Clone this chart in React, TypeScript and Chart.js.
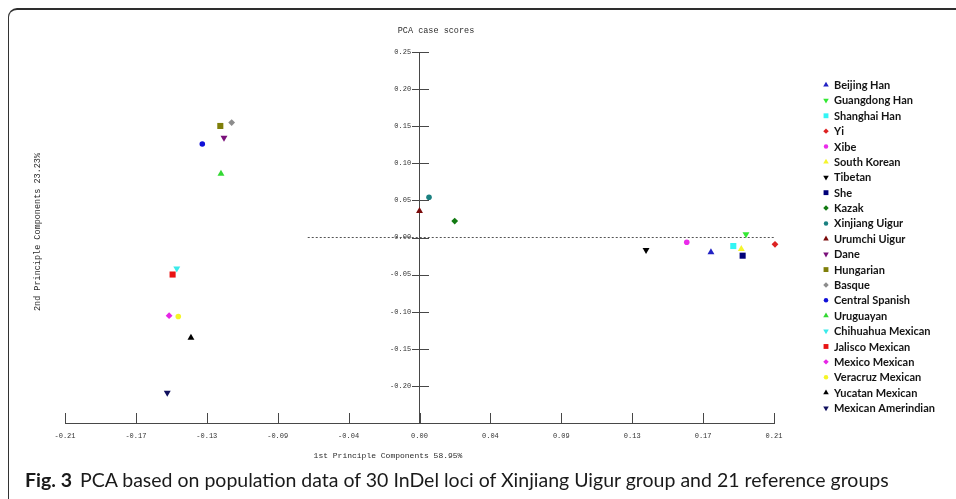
import React, { useEffect, useRef } from 'react';
import { Chart, registerables } from 'chart.js';
import { drawPoint } from 'chart.js/helpers';

Chart.register(...registerables);

// ---------------- data ----------------
const populations = [
  'Beijing Han', 'Guangdong Han', 'Shanghai Han', 'Yi', 'Xibe', 'South Korean',
  'Tibetan', 'She', 'Kazak', 'Xinjiang Uigur', 'Urumchi Uigur', 'Dane',
  'Hungarian', 'Basque', 'Central Spanish', 'Uruguayan', 'Chihuahua Mexican',
  'Jalisco Mexican', 'Mexico Mexican', 'Veracruz Mexican', 'Yucatan Mexican',
  'Mexican Amerindian',
];
const pc1 = [
  0.1747, 0.1957, 0.1881, 0.2131, 0.1602, 0.1929,
  0.1358, 0.1937, 0.0211, 0.0057, 0.0, -0.1172,
  -0.1194, -0.1126, -0.1302, -0.119, -0.1455,
  -0.148, -0.1501, -0.1446, -0.137,
  -0.1512,
];
const pc2 = [
  -0.0199, 0.0043, -0.0115, -0.0092, -0.0065, -0.0155,
  -0.0168, -0.0245, 0.0222, 0.0542, 0.0357, 0.1345,
  0.1503, 0.1549, 0.1261, 0.086, -0.0418,
  -0.0499, -0.1054, -0.1065, -0.135,
  -0.2091,
];
const colors = [
  '#2222c4', '#33e833', '#33f5f5', '#dd2222', '#ea2cea', '#f5f52e',
  '#000000', '#000078', '#127a12', '#1a8080', '#7a0a0a', '#7a107a',
  '#7f7f0a', '#8c8c8c', '#1010d8', '#33d833', '#3aeaea',
  '#e81414', '#e626e6', '#f5f526', '#000000',
  '#10105e',
];
const shapes = [
  'up', 'down', 'square', 'diamond', 'circle', 'up',
  'down', 'square', 'diamond', 'circle', 'up', 'down',
  'square', 'diamond', 'circle', 'up', 'down',
  'square', 'diamond', 'circle', 'up',
  'down',
];
const xTickValues = [-0.2125, -0.17, -0.1275, -0.085, -0.0425, 0, 0.0425, 0.085, 0.1275, 0.17, 0.2125];
const xTickLabels = ['-0.21', '-0.17', '-0.13', '-0.09', '-0.04', '0.00', '0.04', '0.09', '0.13', '0.17', '0.21'];
const yTickValues = [-0.25, -0.2, -0.15, -0.1, -0.05, 0, 0.05, 0.1, 0.15, 0.2, 0.25];
const yTickLabels = ['', '-0.20', '-0.15', '-0.10', '-0.05', '0.00', '0.05', '0.10', '0.15', '0.20', '0.25'];
const zeroLineX = [-0.067, 0.2125];
const zeroLineY = [0, 0];

const chartTitle = 'PCA case scores';
const xTitle = '1st Principle Components 58.95%';
const yTitle = '2nd Principle Components 23.23%';

// -------------- styles ----------------
const shapeStyle: Record<string, { pointStyle: string; rotation: number; radius: number }> = {
  up: { pointStyle: 'triangle', rotation: 0, radius: 4 },
  down: { pointStyle: 'triangle', rotation: 180, radius: 4 },
  square: { pointStyle: 'rect', rotation: 0, radius: 4.3 },
  diamond: { pointStyle: 'rectRot', rotation: 0, radius: 3.4 },
  circle: { pointStyle: 'circle', rotation: 0, radius: 2.8 },
};

const MONO = "'Liberation Mono', 'DejaVu Sans Mono', monospace";
const AXIS_COLOR = '#474747';

const decorPlugin = {
  id: 'decor',
  afterDraw(chart: any) {
    const ctx = chart.ctx as CanvasRenderingContext2D;
    const xs = chart.scales.x;
    const ys = chart.scales.y;
    const area = chart.chartArea;
    const x0 = xs.getPixelForValue(0);
    ctx.save();
    // tick marks crossing the axes
    ctx.strokeStyle = AXIS_COLOR;
    ctx.lineWidth = 1;
    ctx.beginPath();
    xs.ticks.forEach((t: any) => {
      const px = Math.round(xs.getPixelForValue(t.value)) + 0.5;
      ctx.moveTo(px, area.bottom - 10);
      ctx.lineTo(px, area.bottom + 1);
    });
    ys.ticks.forEach((t: any) => {
      const py = Math.round(ys.getPixelForValue(t.value)) + 0.5;
      ctx.moveTo(Math.round(x0) - 8, py);
      ctx.lineTo(Math.round(x0) + 9, py);
    });
    ctx.stroke();

    // titles
    ctx.fillStyle = '#2b2b2b';
    ctx.textAlign = 'center';
    ctx.textBaseline = 'middle';
    ctx.font = `8.5px ${MONO}`;
    ctx.fillText(chartTitle, 436, 31);
    ctx.font = `8px ${MONO}`;
    ctx.fillText(xTitle, 388, 456);
    ctx.save();
    ctx.translate(38, 232);
    ctx.rotate(-Math.PI / 2);
    ctx.font = `8.5px ${MONO}`;
    ctx.fillText(yTitle, 0, 0);
    ctx.restore();

    // legend
    const step = (408 - 85) / (populations.length - 1);
    populations.forEach((name, i) => {
      const y = 85 + i * step;
      const st = shapeStyle[shapes[i]];
      ctx.fillStyle = colors[i];
      ctx.strokeStyle = colors[i];
      drawPoint(ctx, { pointStyle: st.pointStyle as any, rotation: st.rotation, radius: st.radius * 0.8, borderWidth: 0 }, 826, y);
      ctx.fillStyle = '#141414';
      ctx.textAlign = 'left';
      ctx.textBaseline = 'middle';
      ctx.font = "bold 11px Lato, 'Open Sans', sans-serif";
      ctx.fillText(name, 834, y + 0.5);
    });
    ctx.restore();
  },
};

export default function App() {
  const canvasRef = useRef<HTMLCanvasElement | null>(null);

  useEffect(() => {
    if (!canvasRef.current) return;
    const datasets: any[] = populations.map((name, i) => {
      const st = shapeStyle[shapes[i]];
      return {
        label: name,
        data: [{ x: pc1[i], y: pc2[i] }],
        pointStyle: st.pointStyle,
        rotation: st.rotation,
        pointRadius: st.radius,
        pointBorderWidth: 0,
        backgroundColor: colors[i],
        borderColor: colors[i],
        clip: false,
      };
    });
    datasets.push({
      label: 'zero',
      data: zeroLineX.map((x, i) => ({ x, y: zeroLineY[i] })),
      showLine: true,
      pointRadius: 0,
      borderColor: '#555555',
      borderWidth: 1,
      borderDash: [2, 2],
      clip: false,
    });

    const chart = new Chart(canvasRef.current, {
      type: 'scatter',
      data: { datasets },
      options: {
        responsive: false,
        animation: false,
        devicePixelRatio: 1,
        layout: { padding: { left: 65, top: 52, right: 182, bottom: 20.6 } },
        plugins: {
          legend: { display: false },
          tooltip: { enabled: false },
          title: { display: false },
        },
        scales: {
          x: {
            type: 'linear',
            position: 'bottom',
            min: -0.2125,
            max: 0.2125,
            afterBuildTicks: (s: any) => {
              s.ticks = xTickValues.map((v) => ({ value: v }));
            },
            ticks: {
              callback: (_v: any, i: number) => xTickLabels[i],
              font: { family: MONO, size: 7 },
              color: '#333333',
              padding: 9,
              maxRotation: 0,
              autoSkip: false,
            },
            grid: { drawOnChartArea: false, drawTicks: false },
            border: { color: AXIS_COLOR, width: 1 },
          },
          y: {
            type: 'linear',
            position: { x: 0 } as any,
            min: -0.25,
            max: 0.25,
            afterBuildTicks: (s: any) => {
              s.ticks = yTickValues.map((v) => ({ value: v }));
            },
            ticks: {
              // this axis type ignores tick padding: keep a gap with trailing spaces
              callback: (_v: any, i: number) => yTickLabels[i].padStart(5, ' ') + '  ',
              font: { family: MONO, size: 7 },
              color: '#333333',
              padding: 9,
              autoSkip: false,
            },
            grid: { drawOnChartArea: false, drawTicks: false },
            border: { color: AXIS_COLOR, width: 1 },
          },
        },
      } as any,
      plugins: [decorPlugin],
    });
    return () => chart.destroy();
  }, []);

  return (
    <div style={{ position: 'absolute', left: 0, top: 0, width: 956, height: 499, overflow: 'hidden', background: '#ffffff' }}>
      <div
        style={{
          position: 'absolute', left: 8, top: 8, width: 1000, height: 600,
          borderLeft: '1px solid #333', borderTop: '2px solid #2e2e2e', borderTopLeftRadius: 9,
          boxSizing: 'border-box',
        }}
      />
      <canvas
        ref={canvasRef}
        width={956}
        height={470}
        style={{ position: 'absolute', left: 0, top: 0, width: 956, height: 470 }}
      />
      <div
        style={{
          position: 'absolute', left: 25, top: 470, whiteSpace: 'nowrap',
          fontFamily: "Lato, 'Open Sans', sans-serif", fontSize: 19.5, lineHeight: '19.5px', color: '#1a1a1a',
        }}
      >
        <span style={{ fontWeight: 700, marginRight: 8 }}>Fig. 3</span>
        PCA based on population data of 30 InDel loci of Xinjiang Uigur group and 21 reference groups
      </div>
    </div>
  );
}
